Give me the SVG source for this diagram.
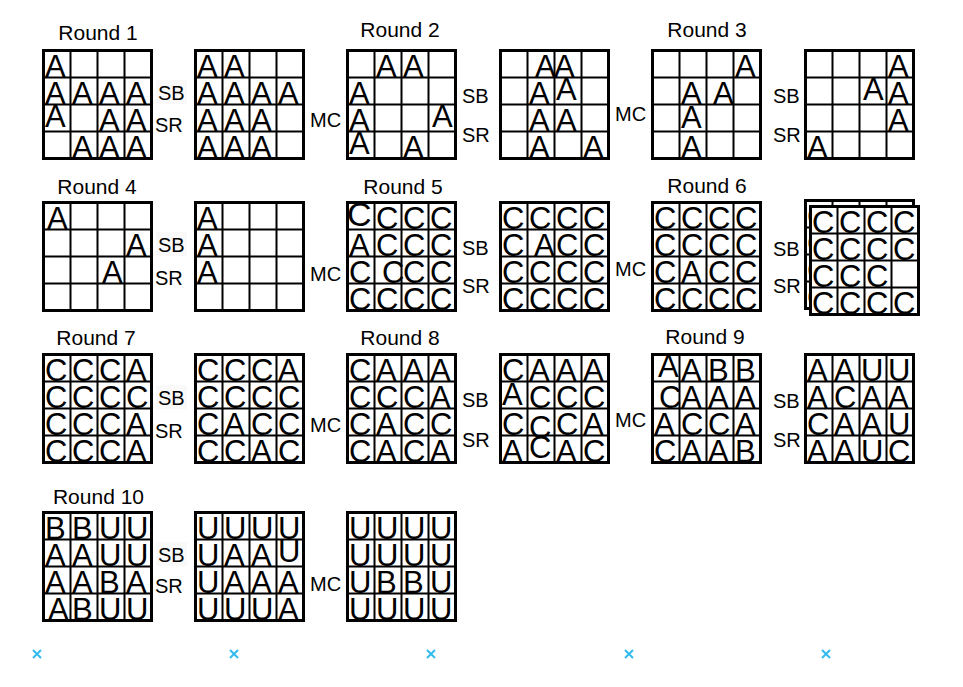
<svg xmlns="http://www.w3.org/2000/svg" xmlns:xlink="http://www.w3.org/1999/xlink" width="963" height="687" viewBox="0 0 963 687">
<style>
text{font-family:"Liberation Sans",Arial,sans-serif;fill:#000}
.t{font-size:31px}
.big{font-size:34px}
.lab{font-size:20px}
.ttl{font-size:21px;text-anchor:middle}
.fr{fill:#fff;stroke:#000;stroke-width:3}
.ln{fill:none;stroke:#000;stroke-width:2}
.x{stroke:#33bbee;stroke-width:2;fill:none}
.bg{fill:#f9f9f9}
</style>
<defs>
<g id="frame">
<rect class="fr" x="1.5" y="1.5" width="108" height="108"/>
</g>
<path id="lines" class="ln" d="M28.5 1.5V109.5M55.5 1.5V109.5M82.5 1.5V109.5M1.5 28.5H109.5M1.5 55.5H109.5M1.5 82.5H109.5"/>
</defs>
<rect width="963" height="687" fill="#fff"/>

<g id="titles">
<text class="ttl" x="98" y="40">Round 1</text>
<text class="ttl" x="400" y="37">Round 2</text>
<text class="ttl" x="707" y="37">Round 3</text>
<text class="ttl" x="97" y="194">Round 4</text>
<text class="ttl" x="403" y="194">Round 5</text>
<text class="ttl" x="707" y="193">Round 6</text>
<text class="ttl" x="96" y="345">Round 7</text>
<text class="ttl" x="400" y="345">Round 8</text>
<text class="ttl" x="705" y="344">Round 9</text>
<text class="ttl" x="98.5" y="504">Round 10</text>
</g>

<!-- Row 1 -->
<g id="g1" transform="translate(42,49)">
<use xlink:href="#frame"/>
<text class="t" x="3" y="27.5">A</text>
<text class="t" x="3 30 57 84" y="54.5">AAAA</text>
<text class="t" x="3" y="77.5">A</text>
<text class="t" x="57 84" y="81.5">AA</text>
<text class="t" x="30 57 84" y="108.5">AAA</text>
<use xlink:href="#lines"/>
</g>
<g id="g2" transform="translate(194,49)">
<use xlink:href="#frame"/>
<text class="t" x="3 30" y="27.5">AA</text>
<text class="t" x="3 30 57 84" y="54.5">AAAA</text>
<text class="t" x="3 30 57" y="81.5">AAA</text>
<text class="t" x="3 30 57" y="108.5">AAA</text>
<use xlink:href="#lines"/>
</g>
<g id="g3" transform="translate(346,49)">
<use xlink:href="#frame"/>
<text class="t" x="30 57" y="27.5">AA</text>
<text class="t" x="3" y="54.5">A</text>
<text class="t" x="3" y="81.5">A</text>
<text class="t" x="86" y="77.5">A</text>
<text class="t" x="3" y="105">A</text>
<text class="t" x="57" y="108.5">A</text>
<use xlink:href="#lines"/>
</g>
<g id="g4" transform="translate(499,49)">
<use xlink:href="#frame"/>
<text class="t" x="36 55" y="27.5">AA</text>
<text class="t" x="30" y="54.5">A</text>
<text class="t" x="57" y="50.5">A</text>
<text class="t" x="30 57" y="81.5">AA</text>
<text class="t" x="30 84" y="108.5">AA</text>
<use xlink:href="#lines"/>
</g>
<g id="g5" transform="translate(651,49)">
<use xlink:href="#frame"/>
<text class="t" x="84" y="27.5">A</text>
<text class="t" x="30 62" y="54.5">AA</text>
<text class="t" x="30" y="78.5">A</text>
<text class="t" x="30" y="108.5">A</text>
<use xlink:href="#lines"/>
</g>
<g id="g6" transform="translate(804,49)">
<use xlink:href="#frame"/>
<text class="t" x="84" y="27.5">A</text>
<text class="t" x="59" y="50.5">A</text>
<text class="t" x="84" y="54.5">A</text>
<text class="t" x="84" y="81.5">A</text>
<text class="t" x="3" y="108.5">A</text>
<use xlink:href="#lines"/>
</g>

<!-- Row 2 -->
<g id="g7" transform="translate(42,201)">
<use xlink:href="#frame"/>
<text class="t" x="5" y="27.5">A</text>
<text class="t" x="84" y="54.5">A</text>
<text class="t" x="60" y="81.5">A</text>
<use xlink:href="#lines"/>
</g>
<g id="g8" transform="translate(194,201)">
<use xlink:href="#frame"/>
<text class="t" x="3" y="27.5">A</text>
<text class="t" x="3" y="54.5">A</text>
<text class="t" x="3" y="81.5">A</text>
<use xlink:href="#lines"/>
</g>
<g id="g9" transform="translate(346,201)">
<use xlink:href="#frame"/>
<text class="big" x="1" y="24.5">C</text>
<text class="t" x="30 57 84" y="27.5">CCC</text>
<text class="t" x="3 30 57 84" y="54.5">ACCC</text>
<text class="t" x="3 36 57 84" y="81.5">CCCC</text>
<text class="t" x="3 30 57 84" y="108.5">CCCC</text>
<use xlink:href="#lines"/>
</g>
<g id="g10" transform="translate(499,201)">
<use xlink:href="#frame"/>
<text class="t" x="3 30 57 84" y="27.5">CCCC</text>
<text class="t" x="3 35 57 84" y="54.5">CACC</text>
<text class="t" x="3 30 57 84" y="81.5">CCCC</text>
<text class="t" x="3 30 57 84" y="108.5">CCCC</text>
<use xlink:href="#lines"/>
</g>
<g id="g11" transform="translate(651,201)">
<use xlink:href="#frame"/>
<text class="t" x="3 30 57 84" y="27.5">CCCC</text>
<text class="t" x="3 30 57 84" y="54.5">CCCC</text>
<text class="t" x="3 30 57 84" y="81.5">CACC</text>
<text class="t" x="3 30 57 84" y="108.5">CCCC</text>
<use xlink:href="#lines"/>
</g>
<g id="g12">
<g id="g12back" transform="translate(804,199)">
<use xlink:href="#frame"/>
<text class="t" x="3 30 57 84" y="27.5">CCCC</text>
<text class="t" x="3 30 57 84" y="54.5">CCCC</text>
<text class="t" x="3 30 57 84" y="81.5">CCCC</text>
<text class="t" x="3 30 57 84" y="108.5">CCCC</text>
<use xlink:href="#lines"/>
</g>
<g id="g12front" transform="translate(809,205)">
<use xlink:href="#frame"/>
<text class="t" x="3 30 57 84" y="27.5">CCCC</text>
<text class="t" x="3 30 57 84" y="54.5">CCCC</text>
<text class="t" x="3 30 57" y="81.5">CCC</text>
<text class="t" x="3 30 57 84" y="108.5">CCCC</text>
<use xlink:href="#lines"/>
</g>
</g>

<!-- Row 3 -->
<g id="g13" transform="translate(42,353)">
<use xlink:href="#frame"/>
<text class="t" x="3 30 57 84" y="27.5">CCCA</text>
<text class="t" x="3 30 57 84" y="54.5">CCCC</text>
<text class="t" x="3 30 57 84" y="81.5">CCCA</text>
<text class="t" x="3 30 57 84" y="108.5">CCCA</text>
<use xlink:href="#lines"/>
</g>
<g id="g14" transform="translate(194,353)">
<use xlink:href="#frame"/>
<text class="t" x="3 30 57 84" y="27.5">CCCA</text>
<text class="t" x="3 30 57 84" y="54.5">CCCC</text>
<text class="t" x="3 30 57 84" y="81.5">CACC</text>
<text class="t" x="3 30 57 84" y="108.5">CCAC</text>
<use xlink:href="#lines"/>
</g>
<g id="g15" transform="translate(346,353)">
<use xlink:href="#frame"/>
<text class="t" x="3 30 57 84" y="27.5">CAAA</text>
<text class="t" x="3 30 57 84" y="54.5">CCCA</text>
<text class="t" x="3 30 57 84" y="81.5">CACC</text>
<text class="t" x="3 30 57 84" y="108.5">CACA</text>
<use xlink:href="#lines"/>
</g>
<g id="g16" transform="translate(499,353)">
<use xlink:href="#frame"/>
<text class="t" x="3 30 57 84" y="27.5">CAAA</text>
<text class="t" x="3" y="51.5">A</text>
<text class="t" x="30 57 84" y="54.5">CCC</text>
<text class="t" x="3 57 84" y="81.5">CCA</text>
<text class="t" x="30" y="84.5">C</text>
<text class="t" x="3 57 84" y="108.5">AAC</text>
<text class="t" x="30" y="104.5">C</text>
<use xlink:href="#lines"/>
</g>
<g id="g17" transform="translate(651,353)">
<use xlink:href="#frame"/>
<text class="t" x="7" y="23.5">A</text>
<text class="t" x="30 57 84" y="27.5">ABB</text>
<text class="t" x="8 30 57 84" y="54.5">CAAA</text>
<text class="t" x="3 30 57 84" y="81.5">ACCA</text>
<text class="t" x="3 30 57 84" y="108.5">CAAB</text>
<use xlink:href="#lines"/>
</g>
<g id="g18" transform="translate(804,353)">
<use xlink:href="#frame"/>
<text class="t" x="3 30 57 84" y="27.5">AAUU</text>
<text class="t" x="3 30 57 84" y="54.5">ACAA</text>
<text class="t" x="3 30 57 84" y="81.5">CAAU</text>
<text class="t" x="3 30 57 84" y="108.5">AAUC</text>
<use xlink:href="#lines"/>
</g>

<!-- Row 4 -->
<g id="g19" transform="translate(42,511)">
<use xlink:href="#frame"/>
<text class="t" x="3 30 57 84" y="27.5">BBUU</text>
<text class="t" x="3 30 57 84" y="54.5">AAUU</text>
<text class="t" x="3 30 57 84" y="81.5">AABA</text>
<text class="t" x="6 30 57 84" y="108.5">ABUU</text>
<use xlink:href="#lines"/>
</g>
<g id="g20" transform="translate(194,511)">
<use xlink:href="#frame"/>
<text class="t" x="3 30 57 84" y="27.5">UUUU</text>
<text class="t" x="3 30 57" y="54.5">UAA</text>
<text class="t" x="84" y="50.5">U</text>
<text class="t" x="3 30 57 84" y="81.5">UAAA</text>
<text class="t" x="3 30 57 84" y="108.5">UUUA</text>
<use xlink:href="#lines"/>
</g>
<g id="g21" transform="translate(346,511)">
<use xlink:href="#frame"/>
<text class="t" x="3 30 57 84" y="27.5">UUUU</text>
<text class="t" x="3 30 57 84" y="54.5">UUUU</text>
<text class="t" x="3 30 57 84" y="81.5">UBBU</text>
<text class="t" x="3 30 57 84" y="108.5">UUUU</text>
<use xlink:href="#lines"/>
</g>

<g id="connectors">
<rect class="bg" x="156" y="80" width="31" height="24"/>
<rect class="bg" x="156" y="232" width="31" height="24"/>
<rect class="bg" x="156" y="385" width="31" height="24"/>
<rect class="bg" x="156" y="542" width="31" height="24"/>
<text class="lab" x="158" y="100">SB</text>
<text class="lab" x="155" y="132">SR</text>
<text class="lab" x="310" y="127">MC</text>
<text class="lab" x="462" y="103">SB</text>
<text class="lab" x="462" y="142">SR</text>
<text class="lab" x="615" y="121">MC</text>
<text class="lab" x="773" y="103">SB</text>
<text class="lab" x="773" y="142">SR</text>

<text class="lab" x="158" y="252">SB</text>
<text class="lab" x="155" y="285">SR</text>
<text class="lab" x="310" y="281">MC</text>
<text class="lab" x="462" y="255">SB</text>
<text class="lab" x="462" y="293">SR</text>
<text class="lab" x="615" y="276">MC</text>
<text class="lab" x="773" y="256">SB</text>
<text class="lab" x="773" y="293">SR</text>

<text class="lab" x="158" y="405">SB</text>
<text class="lab" x="155" y="438">SR</text>
<text class="lab" x="310" y="432">MC</text>
<text class="lab" x="462" y="407">SB</text>
<text class="lab" x="462" y="447">SR</text>
<text class="lab" x="615" y="427">MC</text>
<text class="lab" x="773" y="408">SB</text>
<text class="lab" x="773" y="447">SR</text>

<text class="lab" x="158" y="562">SB</text>
<text class="lab" x="155" y="593">SR</text>
<text class="lab" x="310" y="591">MC</text>
</g>

<g id="marks">
<path class="x" d="M33 650l8 8M41 650l-8 8"/>
<path class="x" d="M230 650l8 8M238 650l-8 8"/>
<path class="x" d="M427 650l8 8M435 650l-8 8"/>
<path class="x" d="M625 650l8 8M633 650l-8 8"/>
<path class="x" d="M822 650l8 8M830 650l-8 8"/>
</g>
</svg>
